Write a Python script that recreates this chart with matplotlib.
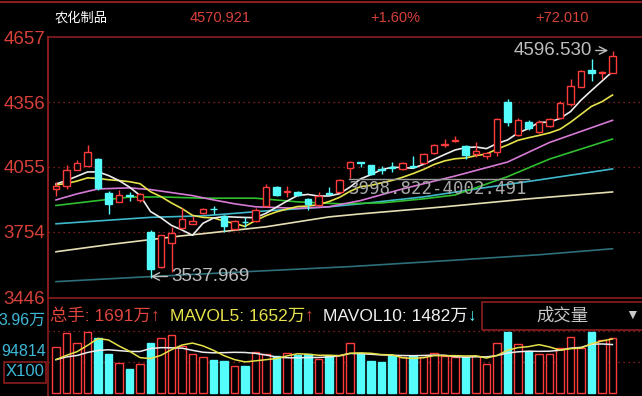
import numpy as np
import pandas as pd
import matplotlib
matplotlib.use("Agg")
import matplotlib.pyplot as plt
from matplotlib.patches import Rectangle
from matplotlib.lines import Line2D

# ── candles (daily OHLC) ─────────────────────────────────────────────────────
opens = [3953, 3968, 4042, 4061, 4092, 3934, 3894, 3924, 3902, 3752,
         3590, 3703, 3771, 3791, 3840, 3862, 3829, 3768, 3801, 3806,
         3876, 3961, 3939, 3941, 3907, 3879, 3932, 3941, 4049, 4077,
         4064, 4047, 4055, 4045, 4060, 4073, 4120, 4159, 4175, 4151,
         4115, 4105, 4125, 4357, 4203, 4262, 4216, 4246, 4285, 4347,
         4429, 4506, 4490, 4494]
highs = [3985, 4064, 4089, 4157, 4095, 3945, 3950, 3940, 3935, 3760,
         3740, 3776, 3864, 3829, 3866, 3876, 3832, 3810, 3823, 3864,
         3976, 3966, 3968, 3945, 3910, 3939, 3961, 3998.822, 4082, 4078,
         4066, 4058, 4079, 4078, 4107, 4120, 4160, 4185, 4197, 4155,
         4170, 4125, 4285, 4370, 4285, 4275, 4275, 4285, 4360, 4466,
         4505, 4558, 4501, 4596.530]
lows = [3922, 3953, 4040, 4058, 3950, 3837, 3890, 3899, 3891, 3537.969,
        3585, 3567, 3768, 3788, 3836, 3837, 3752, 3760, 3776, 3800,
        3870, 3920, 3915, 3920, 3853, 3875, 3925, 3935, 4002.491, 4053,
        4018, 4022, 4030, 4042, 4050, 4068, 4115, 4150, 4170, 4092,
        4100, 4092, 4105, 4246, 4200, 4228, 4212, 4240, 4280, 4340,
        4425, 4455, 4466, 4490]
closes = [3968, 4042, 4073, 4123, 3956, 3883, 3925, 3920, 3930, 3582,
          3737, 3748, 3814, 3806, 3862, 3858, 3783, 3802, 3797, 3857,
          3961, 3925, 3943, 3925, 3884, 3922, 3928, 3995, 4079, 4074,
          4022, 4043, 4051, 4073, 4056, 4115, 4157, 4163, 4179, 4111,
          4130, 4120, 4280, 4262, 4274, 4234, 4265, 4280, 4351, 4432,
          4501, 4490, 4498.911, 4570.921]
prior_closes = [3980, 3960, 3975, 3979, 3946, 3962, 3973, 4023, 3954]

# volume, 万手
volumes = [1410, 1824, 1540, 1863, 1691, 1190, 906, 737, 888, 1540,
           1691, 1773, 1440, 1190, 1108, 1009, 966, 836, 836, 1268,
           1190, 1138, 1238, 1169, 1190, 1039, 1138, 1169, 1540, 1238,
           987, 936, 1138, 1087, 1138, 1108, 1238, 1138, 1087, 1087,
           1138, 888, 1540, 1872, 1500, 1290, 1190, 1190, 1385, 1720,
           1380, 1850, 1620, 1691]
prior_volumes = [1000, 1100, 950, 1050, 1005, 1164, 990, 900, 640]

# slower averages (bar index, price)
ma20_idx = [0, 2, 4, 7, 9, 13, 15, 17, 19, 23, 26, 29, 33, 38, 43, 47, 53]
ma20_val = [3902, 3930, 3953, 3958, 3950, 3922, 3902, 3884, 3870, 3863,
            3870, 3899, 3953, 4013, 4078, 4169, 4272]
ma30_idx = [0, 4, 7, 10, 14, 19, 23, 27, 31, 35, 38, 43, 47, 53]
ma30_val = [3876, 3899, 3915, 3916, 3910, 3910, 3893, 3884, 3888, 3907,
            3925, 4010, 4092, 4185]
ma60_idx = [0, 9, 14, 20, 26, 29, 35, 40, 46, 53]
ma60_val = [3791, 3821, 3828, 3851, 3870, 3884, 3916, 3953, 3995, 4046]
ma120_idx = [0, 5, 12, 14, 20, 26, 29, 37, 45, 53]
ma120_val = [3661, 3694, 3735, 3745, 3777, 3823, 3837, 3870, 3907, 3939]
ma250_idx = [0, 8, 18, 28, 37, 46, 53]
ma250_val = [3522, 3543, 3568, 3592, 3619, 3647, 3675]

y_ticks = [4657, 4356, 4055, 3754, 3446]
gap_low, gap_high = 3998.822, 4002.491

# ── style ────────────────────────────────────────────────────────────────────
RED = '#ff3b3b'
CYAN = '#54fcfc'
LBL = '#d8403a'
BORDER = '#8a1e1e'
DOTC = '#a02828'
GRAY = '#bdbdbd'
SANS = ['Liberation Sans', 'Noto Sans CJK SC', 'DejaVu Sans']
CJK = ['Noto Sans CJK SC', 'DejaVu Sans']

W, H = 642, 396
fig = plt.figure(figsize=(W / 100, H / 100), dpi=100, facecolor='black')
renderer = fig.canvas.get_renderer()


def box(l, t, r, b):
    return [l / W, 1 - b / H, (r - l) / W, (b - t) / H]


def ftext(x, y, s, **kw):
    return fig.text(x / W, 1 - y / H, s, va='center', **kw)


def run_text(x, y, parts, **kw):
    # draw coloured pieces one after another on one line
    for s, col in parts:
        t = ftext(x, y, s, color=col, **kw)
        x += t.get_window_extent(renderer).width


x0, step = 56, 10.5
xlim = ((48 - x0) / step, (642 - x0) / step)
idx = np.arange(len(closes))

# ── main price panel ─────────────────────────────────────────────────────────
ax = fig.add_axes(box(48, 37.5, 642, 298))
ax.set_facecolor('black')
ax.set_xlim(*xlim)
ax.set_ylim(3446, 4657)
ax.spines['right'].set_visible(False)
for s in ['top', 'bottom', 'left']:
    ax.spines[s].set_color(BORDER)
    ax.spines[s].set_linewidth(1.2)
ax.set_xticks([])
ax.set_yticks(y_ticks)
ax.set_yticklabels([str(t) for t in y_ticks], color=LBL, fontsize=13.5,
                   family=SANS)
ax.tick_params(axis='y', length=0, pad=2)
for t in y_ticks[1:-1]:
    ax.axhline(t, color=DOTC, lw=0.9, ls=(0, (1, 3)), zorder=1)

allc = pd.Series(prior_closes + closes)
ma5 = allc.rolling(5).mean().values[len(prior_closes):]
ma10 = allc.rolling(10).mean().values[len(prior_closes):]

ax.plot(ma250_idx, ma250_val, color='#2d6f7a', lw=1.2, zorder=2)
ax.plot(ma120_idx, ma120_val, color='#e6dfb4', lw=1.2, zorder=2)
ax.plot(ma60_idx, ma60_val, color='#3fb8cc', lw=1.2, zorder=2)
ax.plot(ma30_idx, ma30_val, color='#2fbf2f', lw=1.2, zorder=2)
ax.plot(ma20_idx, ma20_val, color='#d67ad6', lw=1.2, zorder=2)
ax.plot(idx, ma10, color='#e6e24a', lw=1.2, zorder=2)
ax.plot(idx, ma5, color='#ececec', lw=1.2, zorder=2)

for i in idx:
    o, h, l, c = opens[i], highs[i], lows[i], closes[i]
    up = c >= o
    col = RED if up else CYAN
    ax.vlines(i, l, h, color=col, lw=1.0, zorder=3)
    ax.add_patch(Rectangle((i - 0.3, min(o, c)), 0.6, max(abs(c - o), 0.5),
                           facecolor='black' if up else col, edgecolor=col,
                           lw=1.0, zorder=4))

# high / low / gap notes
imax = int(np.argmax(highs))
imin = int(np.argmin(lows))
ax.annotate(f"{highs[imax]:.3f}", xy=(imax - 0.4, highs[imax]),
            xytext=(imax - 2.0, highs[imax]), ha='right', va='center',
            color=GRAY, fontsize=13.5, family=SANS,
            arrowprops=dict(arrowstyle='->', color=GRAY, lw=1.0,
                            shrinkA=1, shrinkB=0))
ax.annotate(f"{lows[imin]:.3f}", xy=(imin, lows[imin] + 8),
            xytext=(imin + 2.0, lows[imin] + 8), ha='left', va='center',
            color=GRAY, fontsize=13.5, family=SANS,
            arrowprops=dict(arrowstyle='->', color=GRAY, lw=1.0,
                            shrinkA=1, shrinkB=0))
gmid = (gap_low + gap_high) / 2
ax.plot([27.9, 45.0], [gmid, gmid], color='#9a9a9a', lw=1.0, zorder=5)
ax.text(27.9, gmid - 6, f"{gap_low:.3f}-{gap_high:.3f}", ha='left', va='top',
        color='#a8a8a8', fontsize=12.5, family=['DejaVu Sans Mono'], zorder=5)

# ── volume panel ─────────────────────────────────────────────────────────────
vax = fig.add_axes(box(48, 330.7, 642, 393))
vax.set_facecolor('none')
vax.set_xlim(*xlim)
vax.set_ylim(0, 1905)
for s in vax.spines.values():
    s.set_visible(False)
vax.set_xticks([])
vax.set_yticks([])
vax.axhline(1905, color=DOTC, lw=0.9, ls=(0, (1, 3)), clip_on=False, zorder=0)
vax.axhline(948.14, color=DOTC, lw=0.9, ls=(0, (1, 3)), zorder=0)

vup = [c >= o for o, c in zip(opens, closes)]
vax.bar(idx, volumes, width=0.7,
        color=['black' if u else CYAN for u in vup],
        edgecolor=[RED if u else CYAN for u in vup],
        linewidth=1.0, clip_on=False, zorder=2)
allv = pd.Series(prior_volumes + volumes)
vma5 = allv.rolling(5).mean().values[len(prior_volumes):]
vma10 = allv.rolling(10).mean().values[len(prior_volumes):]
vax.plot(idx, vma10, color='#ececec', lw=1.1, zorder=3)
vax.plot(idx, vma5, color='#e6e24a', lw=1.1, zorder=3)

# ── frame, header, labels ────────────────────────────────────────────────────
fig.add_artist(Line2D([48 / W, 48 / W], [1 - 37 / H, 0], color=BORDER, lw=1.2))
fig.add_artist(Line2D([0, 1], [1 - 2 / H, 1 - 2 / H], color=BORDER, lw=1.5))

ftext(55, 18, "农化制品", color='white', fontsize=9.5, family=CJK)
chg = closes[-1] - closes[-2]
ftext(190, 18, f"{closes[-1]:.3f}", color=LBL, fontsize=10.5, family=SANS)
ftext(370, 18, f"+{chg / closes[-2] * 100:.2f}%", color=LBL, fontsize=10.5,
      family=SANS)
ftext(535, 18, f"+{chg:.3f}", color=LBL, fontsize=10.5, family=SANS)

info_kw = dict(fontsize=12.5, family=SANS)
run_text(50, 316, [(f"总手: {volumes[-1]}万", '#e0453e'), ("↑", '#e0453e')],
         **info_kw)
run_text(170, 316, [(f"MAVOL5: {vma5[-1]:.0f}万", '#e6e24a'),
                    ("↑", '#e0453e')], **info_kw)
run_text(323, 316, [(f"MAVOL10: {vma10[-1]:.0f}万", '#f0f0f0'),
                    ("↓", CYAN)], **info_kw)

fig.add_artist(Rectangle((482 / W, 1 - 330 / H), 170 / W, 28 / H,
                         fill=False, edgecolor=BORDER, lw=1.2))
ftext(562, 316, "成交量", color='#c8c8c8', fontsize=12.5, family=CJK,
      ha='center')
ftext(632, 315, "▼", color='#c8c8c8', fontsize=10, family=SANS, ha='center')

ftext(46, 320, "3.96万", color='#3fb8d8', fontsize=11.5, family=SANS,
      ha='right')
ftext(46, 352, "94814", color='#3fb8d8', fontsize=11.5, family=SANS,
      ha='right')
fig.add_artist(Rectangle((4 / W, 1 - 383 / H), 42 / W, 21 / H,
                         fill=False, edgecolor=BORDER, lw=1.2))
ftext(25, 372, "X100", color='#3fb8d8', fontsize=12, family=SANS, ha='center')

fig.savefig("out.png", dpi=100, facecolor='black')
